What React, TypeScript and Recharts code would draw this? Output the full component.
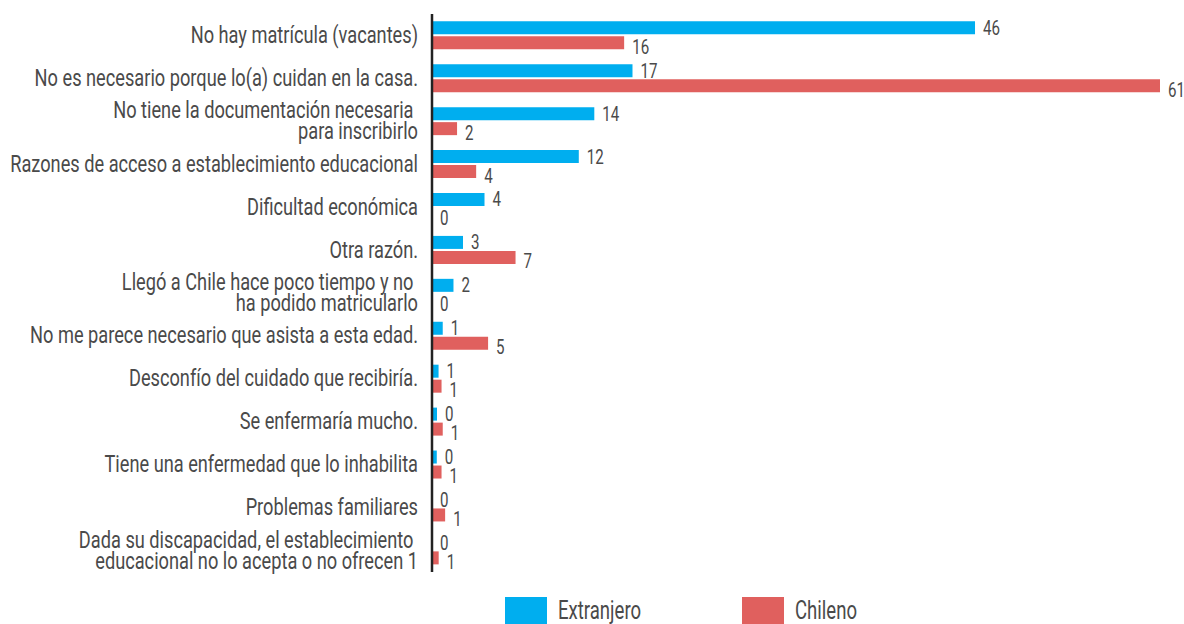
import { BarChart, Bar, XAxis, YAxis, Legend, LabelList } from "recharts";

const FONT = "Roboto, 'Liberation Sans', sans-serif";
const TEXT = "#4a4a4a";
const BLUE = "#00aeef";
const RED = "#e0605e";
const FS = 23;
const LABEL_FS = 21;
const LEGEND_FS = 26;

const categories = [
  "No hay matrícula (vacantes)",
  "No es necesario porque lo(a) cuidan en la casa.",
  "No tiene la documentación necesaria \npara inscribirlo",
  "Razones de acceso a establecimiento educacional",
  "Dificultad económica",
  "Otra razón.",
  "Llegó a Chile hace poco tiempo y no \nha podido matricularlo",
  "No me parece necesario que asista a esta edad.",
  "Desconfío del cuidado que recibiría.",
  "Se enfermaría mucho.",
  "Tiene una enfermedad que lo inhabilita",
  "Problemas familiares",
  "Dada su discapacidad, el establecimiento \neducacional no lo acepta o no ofrecen 1",
];
const extranjero = [45.5, 16.8, 13.6, 12.3, 4.4, 2.6, 1.8, 0.9, 0.55, 0.42, 0.4, 0, 0];
const chileno = [16.1, 61, 2.1, 3.7, 0, 7.0, 0, 4.7, 0.8, 0.9, 0.8, 1.1, 0.56];

const data = categories.map((name, i) => ({ name, extranjero: extranjero[i], chileno: chileno[i] }));

// the original uses a condensed face; squeeze Roboto to the same widths
function fit(text: string, size: number, target: number, fallback: number) {
  try {
    const ctx = document.createElement("canvas").getContext("2d");
    if (!ctx) return fallback;
    ctx.font = `${size}px Roboto`;
    const w = ctx.measureText(text).width;
    return w > 0 ? target / w : fallback;
  } catch (e) {
    return fallback;
  }
}
const SX = fit("Razones de acceso a establecimiento educacional", FS, 408, 0.76);
const LABEL_SX = fit("46", LABEL_FS, 17, 0.7);
const LEGEND_SX = fit("Chileno", LEGEND_FS, 62, 0.72);

function CategoryTick({ x, y, payload }: any) {
  const lines = String(payload.value).split("\n");
  const lh = 21;
  const first = -((lines.length - 1) * lh) / 2 + 7.5;
  return (
    <text
      transform={`translate(${x},${y}) scale(${SX},1)`}
      x={0}
      y={0}
      textAnchor="end"
      fill={TEXT}
      fontSize={FS}
      fontFamily={FONT}
      style={{ whiteSpace: "pre" }}
    >
      {lines.map((l, i) => (
        <tspan key={i} x={0} dy={i === 0 ? first : lh}>
          {l}
        </tspan>
      ))}
    </text>
  );
}

function ValueLabel(props: any) {
  const { x, y, width, height, value, shift } = props;
  const w = Number(width) < 1 ? 0 : Number(width);
  const tx = Number(x) + w + 8;
  const ty = Number(y) + Number(height) / 2 + 7 + (shift || 0);
  return (
    <text transform={`translate(${tx},${ty}) scale(${LABEL_SX},1)`} fill={TEXT} fontSize={LABEL_FS} fontFamily={FONT}>
      {String(Math.round(Number(value)))}
    </text>
  );
}

function LegendBox() {
  const items = [
    { label: "Extranjero", color: BLUE, left: 505 },
    { label: "Chileno", color: RED, left: 742 },
  ];
  return (
    <div style={{ position: "relative", height: 40 }}>
      {items.map((it) => (
        <div key={it.label} style={{ position: "absolute", left: it.left, top: 0, display: "flex", alignItems: "flex-start" }}>
          <div style={{ width: 42, height: 30, background: it.color }} />
          <span
            style={{
              marginLeft: 11,
              marginTop: -2,
              fontFamily: FONT,
              fontSize: LEGEND_FS,
              color: TEXT,
              display: "inline-block",
              transform: `scaleX(${LEGEND_SX})`,
              transformOrigin: "left top",
            }}
          >
            {it.label}
          </span>
        </div>
      ))}
    </div>
  );
}

// zero values still need an entry so their "0" label is drawn
const tiny = (v: any) => (Number(v) === 0 ? 0.2 : 0);

export default function App() {
  return (
    <div style={{ position: "absolute", left: 0, top: 0, width: 1184, height: 624, background: "#fff" }}>
      <BarChart
        width={1184}
        height={624}
        data={data}
        layout="vertical"
        margin={{ top: 14, right: 24, bottom: 52, left: 0 }}
        barCategoryGap="17%"
        barGap={2}
      >
        <XAxis type="number" domain={[0, 61]} hide />
        <YAxis
          type="category"
          dataKey="name"
          width={432}
          tick={<CategoryTick />}
          tickLine={false}
          tickMargin={8}
          axisLine={{ stroke: "#222", strokeWidth: 2.5 }}
          interval={0}
        />
        <Legend
          layout="horizontal"
          verticalAlign="middle"
          align="center"
          wrapperStyle={{ top: 597, left: 0, width: 1184 }}
          content={() => <LegendBox />}
        />
        <Bar dataKey="extranjero" name="Extranjero" fill={BLUE} minPointSize={tiny} isAnimationActive={false}>
          <LabelList dataKey="extranjero" content={(p: any) => <ValueLabel {...p} shift={0} />} />
        </Bar>
        <Bar dataKey="chileno" name="Chileno" fill={RED} minPointSize={tiny} isAnimationActive={false}>
          <LabelList dataKey="chileno" content={(p: any) => <ValueLabel {...p} shift={4} />} />
        </Bar>
      </BarChart>
    </div>
  );
}
